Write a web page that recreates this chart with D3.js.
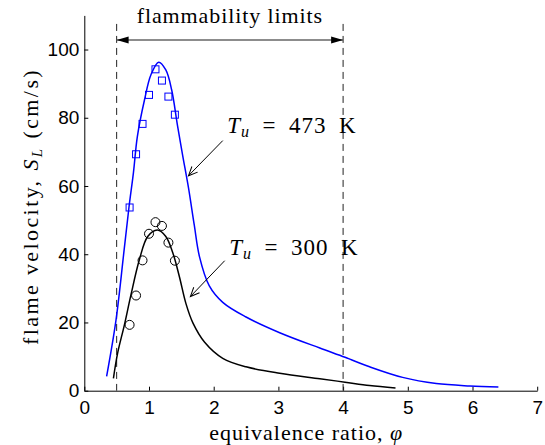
<!DOCTYPE html>
<html>
<head>
<meta charset="utf-8">
<script src="https://cdn.jsdelivr.net/npm/d3@7"></script>
<style>
  body { margin: 0; background: #fff; }
  .tick text { font-family: "Liberation Sans", Arial, sans-serif; font-size: 19px; }
  .serif { font-family: "Liberation Serif", "Times New Roman", serif; }
</style>
</head>
<body>
<svg id="chart" width="545" height="445"></svg>
<script>
// measured flame speeds (symbols)
const phiData = [0.7, 0.8, 0.9, 1.0, 1.1, 1.2, 1.3, 1.4];
const sl473Data = [53.7, 69.3, 78.2, 86.7, 94.2, 90.9, 86.2, 80.9];
const sl300Data = [19.3, 27.9, 38.2, 46.0, 49.4, 48.3, 43.4, 38.1];

// computed curves
const phi473 = [0.345, 0.49, 0.61, 0.69, 0.76, 0.82, 0.93, 1.03, 1.15, 1.26, 1.35, 1.44, 1.52, 1.61, 1.70, 1.78, 1.93, 2.14, 2.50, 3.02, 3.64, 4.03, 4.41, 4.92, 5.44, 5.96, 6.40];
const sl473 = [4.2, 20.7, 40.3, 53.7, 64.0, 74.5, 85.2, 92.6, 96.3, 94.0, 88.2, 77.8, 69.0, 59.5, 48.5, 39.3, 30.8, 25.9, 21.6, 17.0, 12.5, 9.8, 7.0, 3.9, 2.1, 1.4, 1.1];
const phi300 = [0.45, 0.515, 0.62, 0.72, 0.85, 0.98, 1.13, 1.26, 1.37, 1.47, 1.57, 1.68, 1.86, 2.14, 2.50, 3.02, 3.64, 4.03, 4.41, 4.81];
const sl300 = [3.6, 11.0, 19.3, 28.0, 38.3, 45.2, 47.1, 45.2, 40.3, 33.4, 25.6, 19.8, 14.2, 9.5, 7.0, 5.1, 3.5, 2.5, 1.5, 0.8];

const xTicks = [0, 1, 2, 3, 4, 5, 6, 7];
const yTicks = [0, 20, 40, 60, 80, 100];
const limits = [0.5, 4.0];

const svg = d3.select('#chart');
const margin = { top: 15.4, left: 84.3 },
  width = 452.9,
  height = 375.3;

const x = d3.scaleLinear().domain([0, 7]).range([0, width]);
const y = d3.scaleLinear().domain([0, 110]).range([height, 0]);

const g = svg.append('g')
  .attr('transform', `translate(${margin.left},${margin.top})`);

const defs = svg.append('defs');
defs.append('marker')
  .attr('id', 'open').attr('viewBox', '-10 -5 12 10')
  .attr('refX', 0).attr('refY', 0)
  .attr('markerWidth', 12).attr('markerHeight', 10)
  .attr('markerUnits', 'userSpaceOnUse')
  .attr('orient', 'auto')
  .append('path').attr('d', 'M-9,-4L0,0L-9,4')
  .attr('fill', 'none').attr('stroke', '#000').attr('stroke-width', 1);
defs.append('marker')
  .attr('id', 'solid').attr('viewBox', '-12 -5 13 10')
  .attr('refX', 0).attr('refY', 0)
  .attr('markerWidth', 13).attr('markerHeight', 10)
  .attr('markerUnits', 'userSpaceOnUse')
  .attr('orient', 'auto-start-reverse')
  .append('path').attr('d', 'M-12,-3.5L0,0L-12,3.5Z')
  .attr('fill', '#000');

// axes
const xAxis = g.append('g')
  .attr('transform', `translate(0,${height})`)
  .call(d3.axisBottom(x).tickValues(xTicks).tickFormat(d3.format('d'))
    .tickSizeInner(-4).tickSizeOuter(0).tickPadding(10));
const yAxis = g.append('g')
  .call(d3.axisLeft(y).tickValues(yTicks).tickFormat(d3.format('d'))
    .tickSizeInner(-4).tickSizeOuter(0).tickPadding(5));
[xAxis, yAxis].forEach(a => {
  a.select('.domain').attr('stroke', '#000');
  a.selectAll('.tick line').attr('stroke', '#000');
  a.selectAll('.tick text').attr('fill', '#000');
});

// flammability limits
g.selectAll('.limit')
  .data(limits)
  .enter().append('line')
  .attr('x1', d => x(d)).attr('x2', d => x(d))
  .attr('y1', y(107.5)).attr('y2', height)
  .attr('stroke', '#222').attr('stroke-width', 1)
  .attr('stroke-dasharray', '7,5');

g.append('line')
  .attr('x1', x(limits[0])).attr('x2', x(limits[1]))
  .attr('y1', y(102.8)).attr('y2', y(102.8))
  .attr('stroke', '#666').attr('stroke-width', 1.5)
  .attr('marker-start', 'url(#solid)').attr('marker-end', 'url(#solid)');

g.append('text').attr('class', 'serif')
  .attr('x', x((limits[0] + limits[1]) / 2)).attr('y', y(107.8))
  .attr('text-anchor', 'middle').attr('font-size', 22)
  .attr('letter-spacing', 0.9)
  .text('flammability limits');

// curves
const line = d3.line()
  .x(d => x(d[0])).y(d => y(d[1]))
  .curve(d3.curveCatmullRom.alpha(0.5));

g.append('path')
  .datum(d3.zip(phi473, sl473))
  .attr('d', line).attr('fill', 'none')
  .attr('stroke', '#0000ff').attr('stroke-width', 1.5);
g.append('path')
  .datum(d3.zip(phi300, sl300))
  .attr('d', line).attr('fill', 'none')
  .attr('stroke', '#000').attr('stroke-width', 1.5);

// symbols
g.selectAll('.sq')
  .data(d3.zip(phiData, sl473Data))
  .enter().append('rect')
  .attr('x', d => x(d[0]) - 3.5).attr('y', d => y(d[1]) - 3.5)
  .attr('width', 7).attr('height', 7)
  .attr('fill', 'none').attr('stroke', '#0000ff').attr('stroke-width', 1);
g.selectAll('.circ')
  .data(d3.zip(phiData, sl300Data))
  .enter().append('circle')
  .attr('cx', d => x(d[0])).attr('cy', d => y(d[1]))
  .attr('r', 4.5)
  .attr('fill', 'none').attr('stroke', '#000').attr('stroke-width', 1);

// annotations
const notes = [
  { tx: 2.21, ty: 75.6, ax: 2.14, ay: 73.3, hx: 1.61, hy: 63.0, temp: '473' },
  { tx: 2.24, ty: 39.8, ax: 2.17, ay: 38.1, hx: 1.64, hy: 27.6, temp: '300' }
];
notes.forEach(n => {
  g.append('line')
    .attr('x1', x(n.ax)).attr('y1', y(n.ay))
    .attr('x2', x(n.hx)).attr('y2', y(n.hy))
    .attr('stroke', '#000').attr('stroke-width', 1)
    .attr('marker-end', 'url(#open)');
  const t = g.append('text').attr('class', 'serif')
    .attr('x', x(n.tx)).attr('y', y(n.ty)).attr('font-size', 23)
    .attr('letter-spacing', 1);
  t.append('tspan').attr('font-style', 'italic').text('T');
  t.append('tspan').attr('font-style', 'italic').attr('font-size', 16).attr('dy', 4).text('u');
  t.append('tspan').attr('dy', -4).text('\u2002=\u2002' + n.temp + '\u2002K');
});

// axis labels
svg.append('text').attr('class', 'serif')
  .attr('x', margin.left + x(3.43)).attr('y', 440)
  .attr('text-anchor', 'middle').attr('font-size', 22)
  .attr('letter-spacing', 1)
  .call(t => {
    t.append('tspan').text('equivalence ratio, ');
    t.append('tspan').attr('font-style', 'italic').text('φ');
  });

svg.append('text').attr('class', 'serif')
  .attr('transform', `translate(38,${margin.top + y(54)}) rotate(-90)`)
  .attr('text-anchor', 'middle').attr('font-size', 22)
  .attr('letter-spacing', 2.4)
  .call(t => {
    t.append('tspan').text('flame velocity, ');
    t.append('tspan').attr('font-style', 'italic').text('S');
    t.append('tspan').attr('font-style', 'italic').attr('font-size', 15).attr('dy', 4).text('L');
    t.append('tspan').attr('dy', -4).text(' (cm/s)');
  });
</script>
</body>
</html>
